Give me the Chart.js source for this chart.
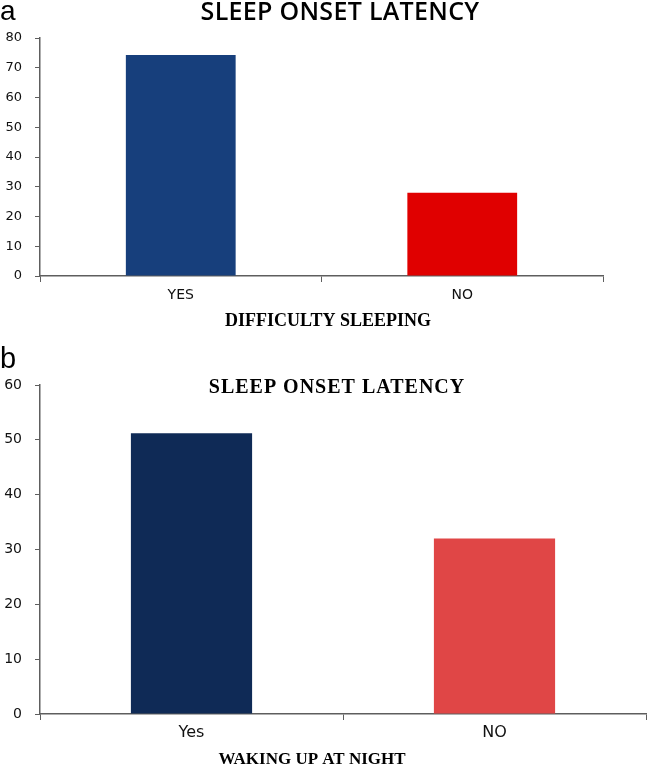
<!DOCTYPE html>
<html>
<head>
<meta charset="utf-8">
<script src="https://cdn.jsdelivr.net/npm/chart.js@4.4.1/dist/chart.umd.min.js"></script>
<style>
  body { margin: 0; background: #fff; }
  .panel { position: absolute; left: 0; width: 649px; }
</style>
</head>
<body>
<div class="panel" style="top:0;height:330px"><canvas id="chartA" width="649" height="330"></canvas></div>
<div class="panel" style="top:330px;height:436px"><canvas id="chartB" width="649" height="436"></canvas></div>
<script>
// Panel a: difficulty sleeping
const categoriesA = ['YES', 'NO'];
const valuesA = [74.3, 28];
const colorsA = ['#173f7c', '#e00000'];

// Panel b: waking up at night
const categoriesB = ['Yes', 'NO'];
const valuesB = [51.2, 32];
const colorsB = ['#0f2a56', '#e04646'];

const axisColor = '#5e5e5e';

// draws panel letters and titles at fixed spots on the canvas
const panelText = {
    id: 'panelText',
    afterDraw(chart, args, opts) {
        const ctx = chart.ctx;
        (opts.items || []).forEach(function(t) {
            ctx.save();
            ctx.font = t.font;
            ctx.fillStyle = t.color || '#000';
            ctx.textAlign = t.align || 'center';
            ctx.textBaseline = 'alphabetic';
            if (t.spacing) ctx.letterSpacing = t.spacing;
            ctx.fillText(t.text, t.x, t.y);
            ctx.restore();
        });
    }
};

function makeChart(id, labels, values, colors, opts) {
    const ctx = document.getElementById(id).getContext('2d');
    return new Chart(ctx, {
        type: 'bar',
        data: {
            labels: labels,
            datasets: [{
                data: values,
                backgroundColor: colors,
                borderWidth: 0,
                categoryPercentage: 1,
                barPercentage: opts.barPct
            }]
        },
        options: {
            responsive: false,
            animation: false,
            layout: { padding: { top: opts.top, right: opts.right, left: 0, bottom: 0 } },
            plugins: {
                legend: { display: false },
                tooltip: { enabled: false },
                panelText: { items: opts.texts }
            },
            scales: {
                x: {
                    afterFit: function(scale) { scale.height = opts.xHeight; },
                    grid: { drawOnChartArea: false, drawTicks: true, tickLength: 6, color: axisColor, offset: true },
                    border: { color: axisColor, width: 1.5 },
                    ticks: { color: '#111', font: { family: 'DejaVu Sans', size: opts.xFont }, padding: opts.xPad }
                },
                y: {
                    min: 0,
                    max: opts.yMax,
                    afterFit: function(scale) { scale.width = 40; },
                    grid: { drawOnChartArea: false, drawTicks: true, tickLength: 5, color: axisColor },
                    border: { color: axisColor, width: 1.5 },
                    ticks: { stepSize: 10, color: '#111', font: { family: 'DejaVu Sans', size: opts.yFont }, padding: opts.yPad }
                }
            }
        },
        plugins: [panelText]
    });
}

makeChart('chartA', categoriesA, valuesA, colorsA, {
    barPct: 0.39, top: 38, right: 46, xHeight: 54, yMax: 80,
    xFont: 14, yFont: 13, xPad: 5, yPad: 13,
    texts: [
        { text: 'a', x: 0, y: 20, align: 'left', font: '28px "Liberation Sans"' },
        { text: 'SLEEP ONSET LATENCY', x: 340, y: 20, font: '600 25px "Open Sans"', spacing: '0.3px' },
        { text: 'DIFFICULTY SLEEPING', x: 328, y: 326, font: 'bold 18px "Liberation Serif"' }
    ]
});

makeChart('chartB', categoriesB, valuesB, colorsB, {
    barPct: 0.40, top: 55, right: 3, xHeight: 52, yMax: 60,
    xFont: 16, yFont: 14, xPad: 3, yPad: 13,
    texts: [
        { text: 'b', x: 0, y: 38, align: 'left', font: '29px "Liberation Sans"' },
        { text: 'SLEEP ONSET LATENCY', x: 337, y: 63, font: 'bold 20px "Liberation Serif"', spacing: '1px' },
        { text: 'WAKING UP AT NIGHT', x: 312, y: 434, font: 'bold 17px "Liberation Serif"' }
    ]
});
</script>
</body>
</html>
